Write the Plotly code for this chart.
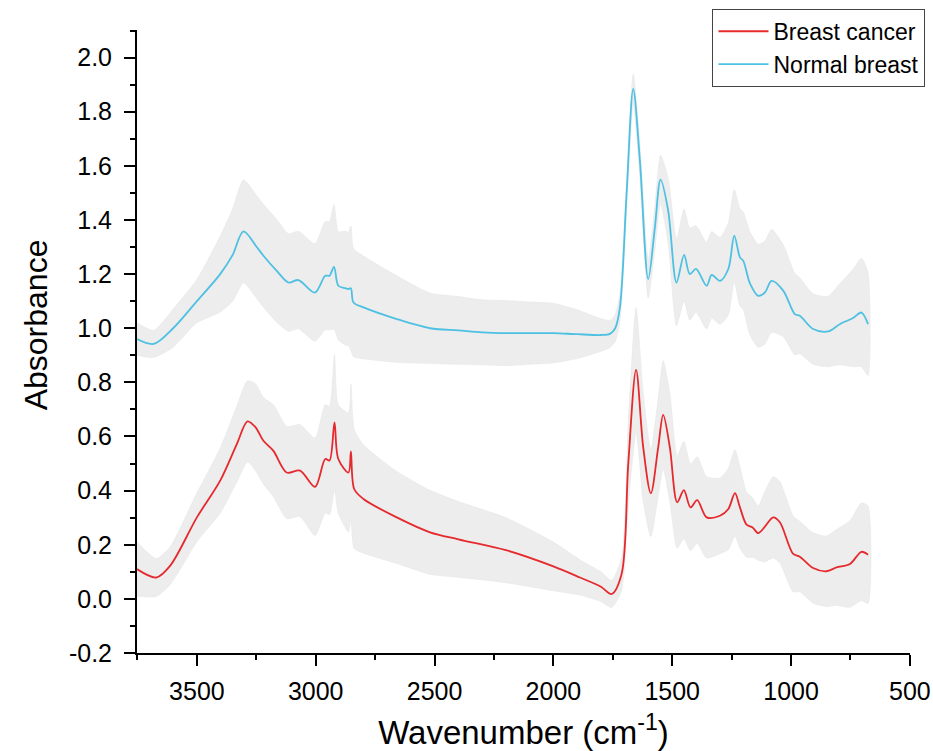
import plotly.graph_objects as go

# ---- Data ----
normal_wn = [3752, 3682, 3600, 3500, 3402, 3350, 3304, 3248, 3220, 3164, 3115, 3073, 3003, 2960, 2942,
             2923, 2905, 2876, 2862, 2852, 2841, 2799, 2659, 2519, 2400, 2300, 2200, 2100, 2000, 1900,
             1800, 1762, 1740, 1720, 1692, 1664, 1636, 1601, 1573, 1549, 1517, 1482, 1450, 1426, 1400,
             1355, 1334, 1299, 1264, 1239, 1215, 1201, 1173, 1138, 1110, 1082, 1033, 984, 963, 907,
             844, 795, 739, 704, 676]
normal_mean = [0.960, 0.942, 1.00, 1.10, 1.20, 1.27, 1.358, 1.30, 1.268, 1.212, 1.169, 1.178, 1.132, 1.194, 1.194,
               1.227, 1.157, 1.148, 1.145, 1.148, 1.095, 1.077, 1.034, 1.000, 0.992, 0.985, 0.982, 0.982, 0.982, 0.978,
               0.975, 0.979, 1.00, 1.077, 1.496, 1.884, 1.619, 1.182, 1.372, 1.549, 1.434, 1.169, 1.271, 1.200, 1.219,
               1.157, 1.197, 1.175, 1.219, 1.342, 1.262, 1.249, 1.166, 1.120, 1.132, 1.175, 1.139, 1.052, 1.046, 0.997,
               0.988, 1.015, 1.038, 1.058, 1.015]
normal_sd = [0.06, 0.05, 0.07, 0.08, 0.14, 0.17, 0.19, 0.19, 0.19, 0.19, 0.18, 0.18, 0.18, 0.20, 0.20,
             0.23, 0.20, 0.21, 0.21, 0.23, 0.20, 0.19, 0.16, 0.13, 0.125, 0.12, 0.12, 0.115, 0.11, 0.09,
             0.06, 0.05, 0.05, 0.05, 0.05, 0.055, 0.06, 0.07, 0.08, 0.09, 0.12, 0.16, 0.17, 0.17, 0.16,
             0.16, 0.16, 0.16, 0.17, 0.17, 0.18, 0.18, 0.19, 0.19, 0.19, 0.19, 0.17, 0.15, 0.14, 0.13,
             0.13, 0.15, 0.18, 0.20, 0.19]

cancer_wn = [3752, 3671, 3612, 3500, 3402, 3332, 3287, 3253, 3220, 3178, 3122, 3066, 3003, 2960, 2942,
             2921, 2905, 2862, 2852, 2838, 2799, 2659, 2519, 2400, 2200, 2000, 1888, 1800, 1755, 1713,
             1685, 1652, 1622, 1590, 1559, 1538, 1510, 1479, 1451, 1423, 1395, 1355, 1299, 1264, 1236,
             1215, 1187, 1162, 1138, 1110, 1075, 1047, 991, 963, 907, 851, 809, 752, 704, 676]
cancer_mean = [0.110, 0.079, 0.123, 0.301, 0.437, 0.572, 0.656, 0.634, 0.584, 0.547, 0.467, 0.474, 0.414, 0.517, 0.511,
               0.652, 0.517, 0.467, 0.545, 0.406, 0.369, 0.301, 0.246, 0.220, 0.180, 0.120, 0.079, 0.045, 0.018, 0.092,
               0.498, 0.846, 0.560, 0.390, 0.560, 0.680, 0.560, 0.357, 0.402, 0.338, 0.365, 0.301, 0.307, 0.332, 0.391,
               0.338, 0.274, 0.264, 0.243, 0.267, 0.301, 0.283, 0.166, 0.156, 0.114, 0.102, 0.116, 0.129, 0.174, 0.163]
cancer_sd = [0.10, 0.07, 0.07, 0.09, 0.12, 0.14, 0.15, 0.16, 0.16, 0.17, 0.17, 0.17, 0.18, 0.20, 0.20,
             0.25, 0.20, 0.22, 0.25, 0.22, 0.20, 0.17, 0.155, 0.14, 0.12, 0.09, 0.065, 0.055, 0.05, 0.06,
             0.15, 0.23, 0.20, 0.16, 0.18, 0.20, 0.20, 0.17, 0.18, 0.16, 0.16, 0.15, 0.14, 0.15, 0.16,
             0.15, 0.12, 0.11, 0.10, 0.13, 0.15, 0.15, 0.14, 0.13, 0.13, 0.13, 0.14, 0.16, 0.18, 0.18]

series_names = ["Breast cancer", "Normal breast"]
line_colors = ["#E5292D", "#4EC0E2"]
band_color = "rgb(237,237,237)"

y_ticks = [-0.2, 0.0, 0.2, 0.4, 0.6, 0.8, 1.0, 1.2, 1.4, 1.6, 1.8, 2.0]
y_tick_text = ["-0.2", "0.0", "0.2", "0.4", "0.6", "0.8", "1.0", "1.2", "1.4", "1.6", "1.8", "2.0"]
x_ticks = [3500, 3000, 2500, 2000, 1500, 1000, 500]

FONT = "Liberation Sans, Arial, sans-serif"

fig = go.Figure()

def add_band(wn, mean, sd):
    upper = [m + s for m, s in zip(mean, sd)]
    lower = [m - s for m, s in zip(mean, sd)]
    fig.add_trace(go.Scatter(
        x=list(wn) + list(wn[::-1]),
        y=upper + lower[::-1],
        fill="toself", fillcolor=band_color,
        line=dict(width=0.6, color="rgb(229,229,229)", shape="spline", smoothing=0.6),
        mode="lines", hoverinfo="skip", showlegend=False))

add_band(normal_wn, normal_mean, normal_sd)
add_band(cancer_wn, cancer_mean, cancer_sd)

fig.add_trace(go.Scatter(x=cancer_wn, y=cancer_mean, mode="lines", name=series_names[0],
                         line=dict(color=line_colors[0], width=1.8, shape="spline", smoothing=0.9)))
fig.add_trace(go.Scatter(x=normal_wn, y=normal_mean, mode="lines", name=series_names[1],
                         line=dict(color=line_colors[1], width=1.8, shape="spline", smoothing=0.9)))

fig.update_layout(
    width=933, height=751,
    margin=dict(l=137, r=23, t=30, b=98, autoexpand=False),
    paper_bgcolor="white", plot_bgcolor="white",
    font=dict(family=FONT, color="black"),
    legend=dict(x=0.7445, y=1.034, xanchor="left", yanchor="top",
                bgcolor="white", bordercolor="#444444", borderwidth=1,
                itemwidth=50,
                font=dict(size=23, family=FONT), tracegroupgap=0),
    xaxis=dict(range=[3752, 499.5], tickvals=x_ticks, ticks="outside", ticklen=11, tickwidth=2,
               tickcolor="black", showline=True, linecolor="black", linewidth=2, automargin=False,
               showgrid=False, zeroline=False, tickfont=dict(size=25, family=FONT),
               ticklabelstandoff=4,
               minor=dict(ticks="outside", ticklen=5, tickwidth=2, tickcolor="black", dtick=250, showgrid=False),
               title=dict(text="Wavenumber (cm<sup>-1</sup>)", font=dict(size=33, family=FONT), standoff=18)),
    yaxis=dict(range=[-0.2, 2.102], tickvals=y_ticks, ticktext=y_tick_text, ticks="outside", ticklen=11,
               tickwidth=2, tickcolor="black", showline=True, linecolor="black", linewidth=2, automargin=False,
               showgrid=False, zeroline=False, tickfont=dict(size=25, family=FONT),
               ticklabelstandoff=7,
               minor=dict(ticks="outside", ticklen=5, tickwidth=2, tickcolor="black", dtick=0.1, showgrid=False)),
    annotations=[dict(text="Absorbance", xref="paper", yref="paper", x=-0.1302, y=0.5265,
                      xanchor="center", yanchor="middle", textangle=-90, showarrow=False,
                      font=dict(size=32, family=FONT, color="black"))],
)

fig.write_html("out.html")
